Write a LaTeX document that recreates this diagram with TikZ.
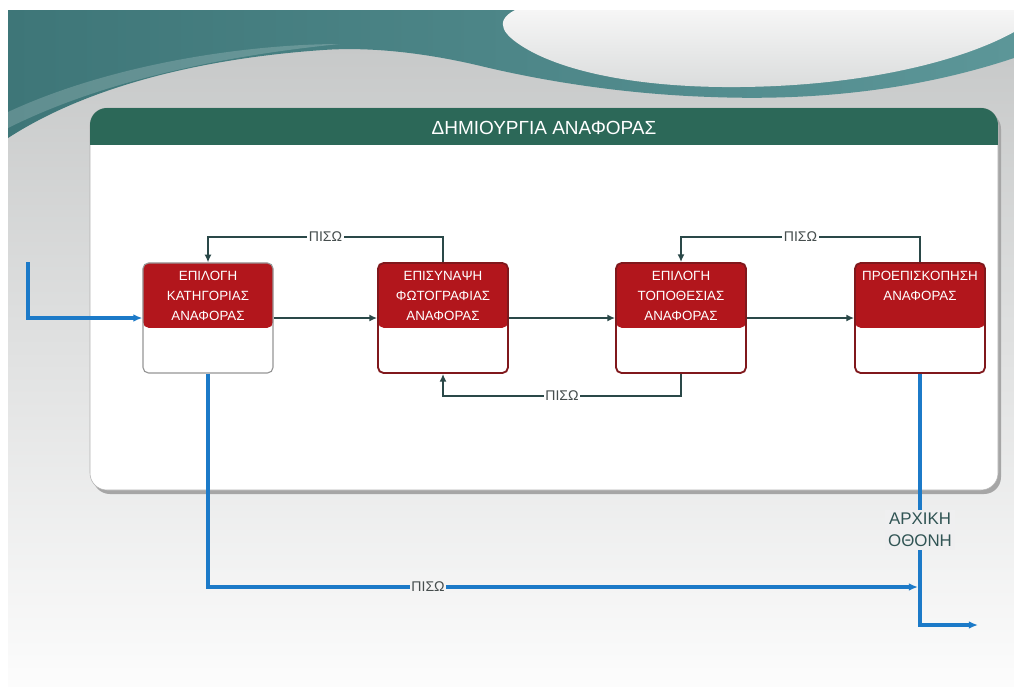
\documentclass[tikz,border=0pt]{standalone}
\usepackage{fontspec}
\setmainfont{Liberation Sans}
\usetikzlibrary{arrows.meta,calc}

\definecolor{bgtop}{RGB}{196,198,198}
\definecolor{bgbot}{RGB}{252,252,252}
\definecolor{tealA}{RGB}{62,118,120}
\definecolor{tealB}{RGB}{92,150,152}
\definecolor{hdrgreen}{RGB}{44,104,88}
\definecolor{boxred}{RGB}{178,22,28}
\definecolor{boxedge}{RGB}{128,24,28}
\definecolor{flowdark}{RGB}{42,72,72}
\definecolor{flowblue}{RGB}{28,122,200}
\definecolor{labgray}{RGB}{70,78,78}
\definecolor{hometext}{RGB}{48,84,84}

\tikzset{
  stepbox/.style={draw=boxedge, line width=1.3pt, rounded corners=4pt, fill=white,
    minimum width=3.25cm, minimum height=2.75cm, inner sep=0pt,
    path picture={\fill[boxred] (path picture bounding box.north west) rectangle
      ($(path picture bounding box.north east)+(0,-1.62cm)$);}},
  firstbox/.style={stepbox, draw={rgb,255:red,150;green,150;blue,150}, line width=0.8pt},
  boxtext/.style={anchor=north, inner sep=0pt, yshift=-0.22cm, text=white,
    font=\fontsize{9.5}{14.2}\selectfont, align=center},
  darkflow/.style={draw=flowdark, line width=1.8pt, -{Latex[length=5.5pt,width=5pt]}},
  blueflow/.style={draw=flowblue, line width=2.2pt, -{Latex[length=6.5pt,width=5.5pt]}},
  backlabel/.style={font=\fontsize{10}{12}\selectfont, text=labgray, inner sep=1pt},
}

\begin{document}
\begin{tikzpicture}[x=0.025cm, y=-0.025cm]
\useasboundingbox (0,0) rectangle (1014,686);

% page backdrop
\fill[white] (0,0) rectangle (1014,686);
\shade[top color=bgtop, bottom color=bgbot] (8,10) rectangle (1014,686);

% teal swoosh across the top
\shade[left color=tealA, right color=tealB]
  (8,10) -- (1014,10) -- (1014,58)
  .. controls (900,96) and (790,100) .. (711,97)
  .. controls (620,94) and (540,80) .. (485,67)
  .. controls (440,56) and (380,46) .. (323,50)
  .. controls (250,55) and (110,72) .. (8,138) -- cycle;
% lighter streak over the swoosh
\fill[white, opacity=0.18]
  (8,112) .. controls (120,60) and (260,44) .. (340,44)
  .. controls (260,52) and (120,72) .. (8,128) -- cycle;

% pale crest on the right
\shade[top color={rgb,255:red,246;green,246;blue,246}, bottom color={rgb,255:red,218;green,220;blue,220}]
  (515,10) -- (1014,10) -- (1014,32)
  .. controls (960,62) and (860,86) .. (740,87)
  .. controls (640,88) and (565,72) .. (525,48)
  .. controls (505,36) and (492,22) .. (515,10) -- cycle;

% panel with its header band
\fill[black!35, rounded corners=12pt] (93,112) rectangle (1001,494);
\draw[black!30, fill=white, rounded corners=12pt] (90,108) rectangle (998,490);
\begin{scope}
  \clip[rounded corners=12pt] (90,108) rectangle (998,490);
  \fill[hdrgreen] (90,108) rectangle (998,145);
\end{scope}
\node[text=white, font=\fontsize{13.5}{16}\selectfont] (title) at (544,128)
  {ΔΗΜΙΟΥΡΓΙΑ ΑΝΑΦΟΡΑΣ};

% the four steps
\node[firstbox, label={[boxtext]north:{ΕΠΙΛΟΓΗ\\ΚΑΤΗΓΟΡΙΑΣ\\ΑΝΑΦΟΡΑΣ}}] (b1) at (208,318) {};
\node[stepbox, label={[boxtext]north:{ΕΠΙΣΥΝΑΨΗ\\ΦΩΤΟΓΡΑΦΙΑΣ\\ΑΝΑΦΟΡΑΣ}}] (b2) at (443,318) {};
\node[stepbox, label={[boxtext]north:{ΕΠΙΛΟΓΗ\\ΤΟΠΟΘΕΣΙΑΣ\\ΑΝΑΦΟΡΑΣ}}] (b3) at (681,318) {};
\node[stepbox, label={[boxtext]north:{ΠΡΟΕΠΙΣΚΟΠΗΣΗ\\ΑΝΑΦΟΡΑΣ}}] (b4) at (920,318) {};

% forward flow
\draw[darkflow] (b1.east) -- (b2.west);
\draw[darkflow] (b2.east) -- (b3.west);
\draw[darkflow] (b3.east) -- (b4.west);

% back links
\draw[darkflow] (b2.north) -- ++(0,-25) -| node[pos=0.25, backlabel, fill=white] (back1) {ΠΙΣΩ} (b1.north);
\draw[darkflow] (b4.north) -- ++(0,-25) -| node[pos=0.25, backlabel, fill=white] (back3) {ΠΙΣΩ} (b3.north);
\draw[darkflow] (b3.south) -- ++(0,22) -| node[pos=0.25, backlabel, fill=white] (back2) {ΠΙΣΩ} (b2.south);

% entry and exits
\coordinate (entry) at (28,262);
\coordinate (join) at (918,587);
\coordinate (turn) at (920,625);
\coordinate (exit) at (978,625);

\draw[blueflow] (entry) |- (b1.west);
\draw[blueflow] (b1.south) |- node[pos=0.655, backlabel, fill={rgb,255:red,244;green,244;blue,244}] (back4) {ΠΙΣΩ} (join);
\draw[blueflow] (b4.south) -- node[pos=0.62, fill={rgb,255:red,239;green,239;blue,240}, text=hometext,
    font=\fontsize{12}{16}\selectfont, align=center, inner sep=2pt] (home) {ΑΡΧΙΚΗ\\ΟΘΟΝΗ} (turn) -- (exit);

\end{tikzpicture}
\end{document}
